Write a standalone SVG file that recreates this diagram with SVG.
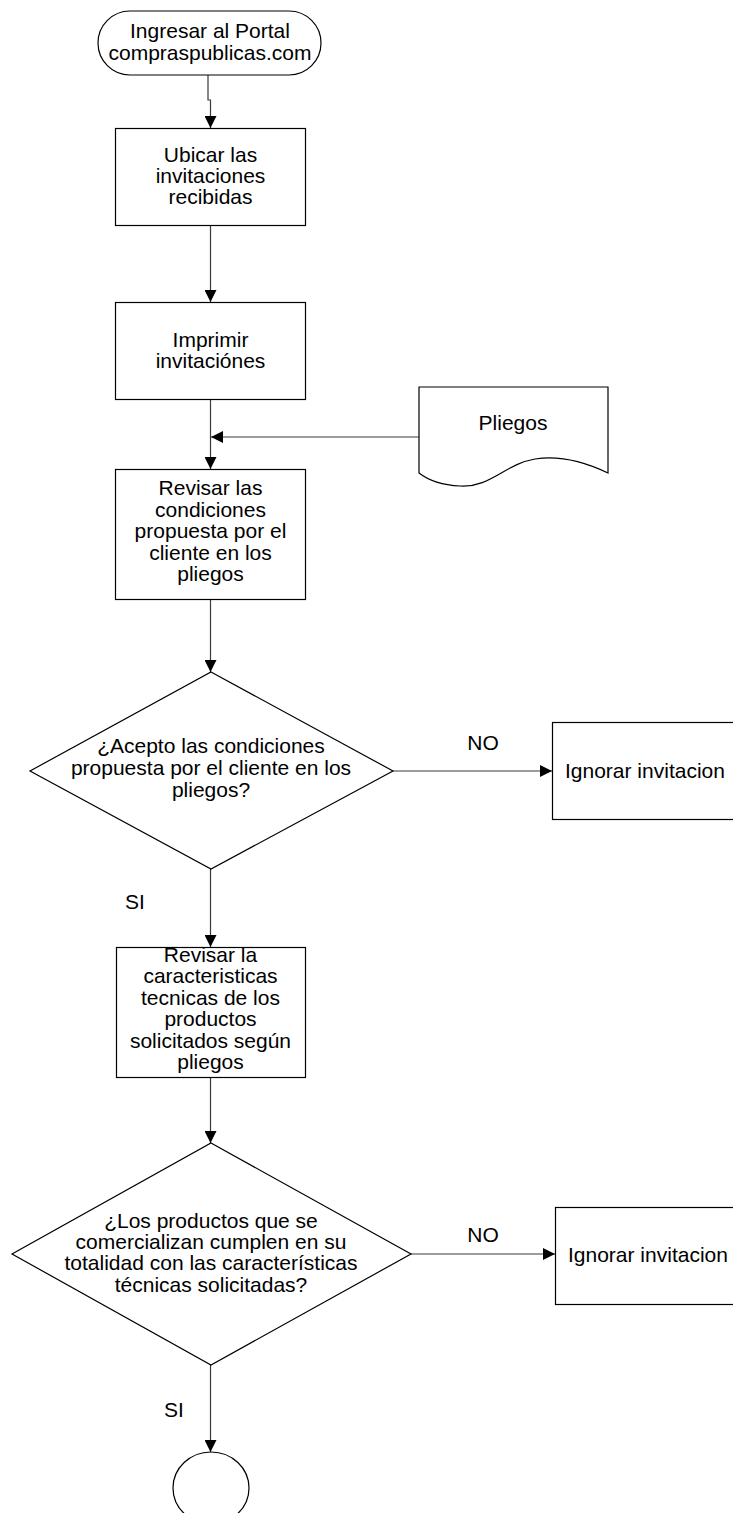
<svg xmlns="http://www.w3.org/2000/svg" width="733" height="1513" viewBox="0 0 733 1513">
  <style>
    .shape { fill: #ffffff; stroke: #000000; stroke-width: 1.2; }
    .conn { fill: none; stroke: #3a3a3a; stroke-width: 1.2; }
    .lbl { font-family: "Liberation Sans", Arial, sans-serif; font-size: 21px; fill: #000000; text-anchor: middle; }
    .lbl-start { text-anchor: start; }
  </style>
  <defs>
    <marker id="arrow" markerUnits="userSpaceOnUse" markerWidth="12" markerHeight="12" viewBox="0 0 12 12" refX="12" refY="6" orient="auto">
      <path d="M0,0 L12,6 L0,12 Z" fill="#000000"/>
    </marker>
  </defs>

  <rect width="733" height="1513" fill="#ffffff"/>

  <!-- connectors -->
  <g id="connectors">
    <polyline class="conn" points="208,75 208,100 210.5,100 210.5,128" marker-end="url(#arrow)"/>
    <line class="conn" x1="210.5" y1="226" x2="210.5" y2="302" marker-end="url(#arrow)"/>
    <line class="conn" x1="210.5" y1="399" x2="210.5" y2="469" marker-end="url(#arrow)"/>
    <line class="conn" x1="419" y1="437" x2="211" y2="437" marker-end="url(#arrow)"/>
    <line class="conn" x1="210.5" y1="599" x2="210.5" y2="672" marker-end="url(#arrow)"/>
    <line class="conn" x1="393" y1="771" x2="552" y2="771" marker-end="url(#arrow)"/>
    <line class="conn" x1="210.5" y1="869" x2="210.5" y2="947" marker-end="url(#arrow)"/>
    <line class="conn" x1="210.5" y1="1077" x2="210.5" y2="1143" marker-end="url(#arrow)"/>
    <line class="conn" x1="411" y1="1254" x2="555" y2="1254" marker-end="url(#arrow)"/>
    <line class="conn" x1="210.5" y1="1365" x2="210.5" y2="1452" marker-end="url(#arrow)"/>
    <text class="lbl" x="483" y="750">NO</text>
    <text class="lbl" x="135" y="909">SI</text>
    <text class="lbl" x="483" y="1242">NO</text>
    <text class="lbl" x="174" y="1417">SI</text>
  </g>

  <!-- start terminator -->
  <g id="start">
    <rect class="shape" x="98" y="11" width="223" height="64" rx="32" ry="32"/>
    <text class="lbl" x="210" y="38">Ingresar al Portal</text>
    <text class="lbl" x="210" y="60">compraspublicas.com</text>
  </g>

  <g id="ubicar">
    <rect class="shape" x="115.5" y="128.5" width="190" height="97"/>
    <text class="lbl" x="210.5" y="162">Ubicar las</text>
    <text class="lbl" x="210.5" y="183">invitaciones</text>
    <text class="lbl" x="210.5" y="204">recibidas</text>
  </g>

  <g id="imprimir">
    <rect class="shape" x="115.5" y="302.5" width="190" height="97"/>
    <text class="lbl" x="210.5" y="347">Imprimir</text>
    <text class="lbl" x="210.5" y="368">invitaciónes</text>
  </g>

  <!-- document shape -->
  <g id="pliegos">
    <path class="shape" d="M419,387 L608,387 L608,473 C585,462 560,455 535,459 C505,464 490,488 460,486 C440,485 428,480 419,473 Z"/>
    <text class="lbl" x="513" y="430">Pliegos</text>
  </g>

  <g id="revisar-condiciones">
    <rect class="shape" x="115.5" y="469.5" width="190" height="130"/>
    <text class="lbl" x="210.5" y="495">Revisar las</text>
    <text class="lbl" x="210.5" y="517">condiciones</text>
    <text class="lbl" x="210.5" y="538">propuesta por el</text>
    <text class="lbl" x="210.5" y="560">cliente en los</text>
    <text class="lbl" x="210.5" y="581">pliegos</text>
  </g>

  <g id="decision-condiciones">
    <polygon class="shape" points="211,672 393,771 211,869 30,771"/>
    <text class="lbl" x="211" y="753">¿Acepto las condiciones</text>
    <text class="lbl" x="211" y="775">propuesta por el cliente en los</text>
    <text class="lbl" x="211" y="797">pliegos?</text>
  </g>

  <g id="ignorar-1">
    <rect class="shape" x="552.5" y="722.5" width="190" height="97"/>
    <text class="lbl lbl-start" x="565" y="778">Ignorar invitacion</text>
  </g>

  <g id="revisar-tecnicas">
    <rect class="shape" x="116.5" y="947.5" width="189" height="130"/>
    <text class="lbl" x="210.5" y="962">Revisar la</text>
    <text class="lbl" x="210.5" y="983">caracteristicas</text>
    <text class="lbl" x="210.5" y="1005">tecnicas de los</text>
    <text class="lbl" x="210.5" y="1026">productos</text>
    <text class="lbl" x="210.5" y="1048">solicitados según</text>
    <text class="lbl" x="210.5" y="1069">pliegos</text>
  </g>

  <g id="decision-productos">
    <polygon class="shape" points="211,1143 411,1254 211,1365 12,1254"/>
    <text class="lbl" x="211" y="1228">¿Los productos que se</text>
    <text class="lbl" x="211" y="1249">comercializan cumplen en su</text>
    <text class="lbl" x="211" y="1270">totalidad con las características</text>
    <text class="lbl" x="211" y="1292">técnicas solicitadas?</text>
  </g>

  <g id="ignorar-2">
    <rect class="shape" x="555.5" y="1207.5" width="190" height="97"/>
    <text class="lbl lbl-start" x="568" y="1262">Ignorar invitacion</text>
  </g>

  <!-- off-page connector circle -->
  <g id="fin">
    <ellipse class="shape" cx="211" cy="1488" rx="38" ry="36"/>
  </g>
</svg>
